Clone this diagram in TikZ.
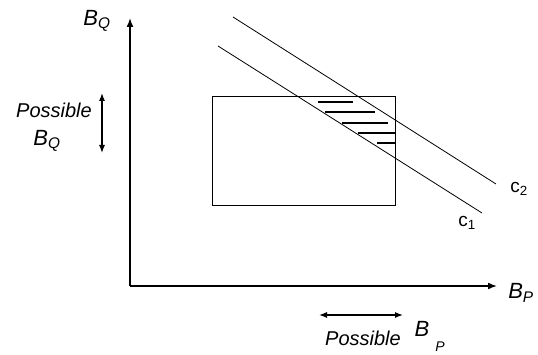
\documentclass[tikz,border=0pt]{standalone}
\usepackage{fontspec}
\setmainfont{Liberation Sans}
\usetikzlibrary{arrows.meta}
\begin{document}
\begin{tikzpicture}[x=1pt,y=1pt,
  lbl/.style={font=\fontsize{20}{22}\selectfont\itshape, inner sep=0pt},
  blbl/.style={font=\fontsize{22}{24}\selectfont\itshape, inner sep=0pt},
  clbl/.style={font=\fontsize{19}{21}\selectfont, inner sep=0pt},
  axis/.style={line width=1.6pt, -{Latex[length=9pt,width=7pt]}},
  darr/.style={line width=1.2pt, {Latex[length=8pt,width=6pt]}-{Latex[length=8pt,width=6pt]}},
  thin line/.style={line width=0.8pt},
  hatch/.style={line width=2.2pt}]
\useasboundingbox (0,0) rectangle (538,-355);
% axes
\coordinate (O) at (130,-286);
\coordinate (Ytop) at (130,-18);
\coordinate (Xend) at (497,-286);
\draw[axis] (O) -- (Ytop);
\draw[axis] (O) -- (Xend);
\node[blbl] (BQ) at (97,-21) {B\textsubscript{Q}};
\node[blbl] (BP) at (521,-293) {B\textsubscript{P}};
% possible B_Q
\node[lbl] (possQ) at (54,-110) {Possible};
\node[blbl] (BQ2) at (47,-141) {B\textsubscript{Q}};
\coordinate (qa) at (102,-93);
\coordinate (qb) at (102,-153);
\draw[darr] (qa) -- (qb);
% possible B_P
\coordinate (pa) at (319,-315);
\coordinate (pb) at (403,-315);
\draw[darr] (pa) -- (pb);
\node[lbl] (possP) at (363,-338) {Possible};
\node[blbl] (BPb) at (422,-329) {B};
\node[lbl, font=\fontsize{14}{15}\selectfont\itshape] (BPs) at (440,-347) {P};
% rectangle
\node[draw, thin line, minimum width=183pt, minimum height=109pt, inner sep=0pt, anchor=north west] (rect) at (212,-96) {};
% lines
\coordinate (c1a) at (218,-46);
\coordinate (c1b) at (482,-213);
\coordinate (c2a) at (233,-17);
\coordinate (c2b) at (496,-184);
\draw[thin line] (c1a) -- (c1b);
\draw[thin line] (c2a) -- (c2b);
\node[clbl] (c1) at (467,-223) {c\textsubscript{1}};
\node[clbl] (c2) at (519,-189) {c\textsubscript{2}};
% hatching
\draw[hatch] (318,-102) -- (353,-102);
\draw[hatch] (325,-112) -- (375,-112);
\draw[hatch] (342,-123) -- (388,-123);
\draw[hatch] (358,-133) -- (395,-133);
\draw[hatch] (377,-143) -- (395,-143);
\end{tikzpicture}
\end{document}
